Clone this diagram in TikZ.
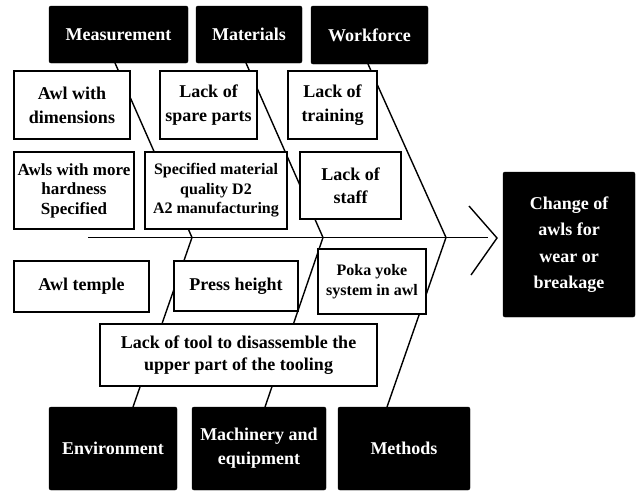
\documentclass[tikz,border=0pt]{standalone}
\usepackage{fontspec}
\setmainfont{Liberation Serif}
\begin{document}
\begin{tikzpicture}[x=1pt,y=-1pt,
  bone/.style={line width=1.4pt},
  headbox/.style={draw=black,fill=black,rounded corners=2pt,text=white,font=\bfseries\fontsize{18}{24}\selectfont,align=center,inner sep=0pt},
  causebox/.style={draw=black,fill=white,line width=1.8pt,font=\bfseries\fontsize{18}{24}\selectfont,align=center,inner sep=0pt},
  smalltxt/.style={font=\bfseries\fontsize{16}{19.5}\selectfont}
]
\useasboundingbox (0,0) rectangle (637,491);
% spine and arrow
\coordinate (tail) at (88,237.5);
\coordinate (head) at (488,237.5);
\coordinate (arA) at (469,206);
\coordinate (arTip) at (497,238);
\coordinate (arB) at (471,275);
% junctions on spine
\coordinate (j1) at (192,237.5);
\coordinate (j2) at (323,237.5);
\coordinate (j3) at (446,237.5);
% bone ends at head boxes
\coordinate (m1) at (115,63);
\coordinate (m2) at (246,63);
\coordinate (m3) at (368,64);
\coordinate (e1) at (133,407);
\coordinate (e2) at (265,407);
\coordinate (e3) at (387,407);
\draw[bone] (tail) -- (head);
\draw[bone] (arA) -- (arTip) -- (arB);
\draw[bone] (m1) -- (j1) -- (e1);
\draw[bone] (m2) -- (j2) -- (e2);
\draw[bone] (m3) -- (j3) -- (e3);
% head boxes
\node[headbox,minimum width=139,minimum height=57] (meas) at (118.5,34.5) {Measurement};
\node[headbox,minimum width=106,minimum height=57] (mat) at (249,34.5) {Materials};
\node[headbox,minimum width=117,minimum height=58] (work) at (369.5,35) {Workforce};
\node[headbox,minimum width=132,minimum height=145,font=\bfseries\fontsize{18}{26.5}\selectfont] (effect) at (569,244.5) {Change of\\awls for\\wear or\\breakage};
\node[headbox,minimum width=128,minimum height=83] (env) at (113,448.5) {Environment};
\node[headbox,minimum width=134,minimum height=83] (mach) at (259,448.5) {Machinery and\\equipment};
\node[headbox,minimum width=132,minimum height=83] (meth) at (404,448.5) {Methods};
% cause boxes
\node[causebox,minimum width=116,minimum height=68] (awldim) at (72,105) {Awl with\\dimensions};
\node[causebox,minimum width=97,minimum height=68] (spare) at (208.5,105) {Lack of\\spare parts};
\node[causebox,minimum width=89,minimum height=68] (train) at (332.5,105) {Lack of\\training};
\node[causebox,minimum width=120,minimum height=77,font=\bfseries\fontsize{17}{19.5}\selectfont] (hard) at (74,190.5) {Awls with more\\hardness\\Specified};
\node[causebox,minimum width=142,minimum height=77,smalltxt] (spec) at (216,190.5) {Specified material\\quality D2\\A2 manufacturing};
\node[causebox,minimum width=101,minimum height=67,font=\bfseries\fontsize{18}{23}\selectfont] (staff) at (350.5,185.5) {Lack of\\staff};
\node[causebox,minimum width=135,minimum height=51] (temple) at (81.5,286.5) {Awl temple};
\node[causebox,minimum width=124,minimum height=50] (press) at (236,286) {Press height};
\node[causebox,minimum width=108,minimum height=65,smalltxt] (poka) at (372,281.5) {Poka yoke\\system in awl};
\node[causebox,minimum width=277,minimum height=62,font=\bfseries\fontsize{18}{21.5}\selectfont] (tool) at (238.5,355) {Lack of tool to disassemble the\\upper part of the tooling};
\end{tikzpicture}
\end{document}
